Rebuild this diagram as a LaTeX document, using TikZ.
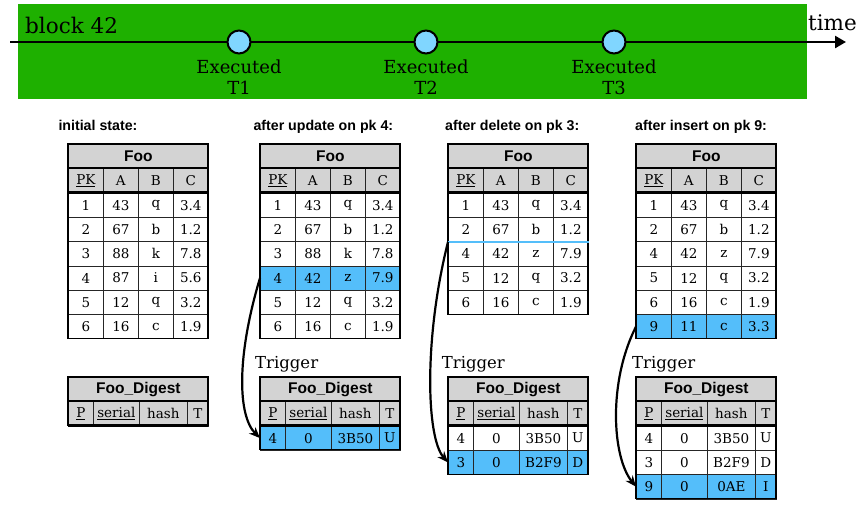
\documentclass[tikz,border=0pt]{standalone}
\usepackage{fontspec}
\setmainfont{DejaVu Serif}
\newfontfamily\headsans{Liberation Sans}
\usetikzlibrary{arrows.meta,positioning}

\definecolor{bandgreen}{RGB}{30,176,0}
\definecolor{dotblue}{RGB}{128,214,255}
\definecolor{rowblue}{RGB}{84,190,250}
\definecolor{hdrgray}{RGB}{211,211,211}

\def\rowh{24.3}

\tikzset{
  cellbox/.style={draw=black!85, line width=0.7pt, inner sep=0pt, anchor=north west,
    minimum height=\rowh pt, font=\fontsize{13.5}{15}\selectfont},
  headbox/.style={cellbox, fill=hdrgray, font=\headsans\bfseries\fontsize{15.5}{17}\selectfont},
  colbox/.style={cellbox, fill=hdrgray},
  titletext/.style={anchor=base west, inner sep=0pt, font=\headsans\bfseries\fontsize{14.2}{16}\selectfont},
  event/.style={circle, draw, line width=2pt, fill=dotblue, minimum size=23pt, inner sep=0pt},
  evlabel/.style={align=center, inner sep=0pt, font=\fontsize{18}{21.3}\selectfont},
  bigtext/.style={anchor=base west, inner sep=0pt, font=\fontsize{21.5}{24}\selectfont},
  trig/.style={anchor=base west, inner sep=0pt, font=\fontsize{16.5}{18}\selectfont},
  trigarrow/.style={line width=2.2pt, -{Stealth[length=11pt,width=9pt]}}
}

% Foo table: name, top left, number of rows, marked row, rows
\newcommand{\footable}[5]{%
  \begin{scope}[shift={#2}]
    \node[headbox, minimum width=140pt] (#1-h) at (0,0) {Foo};
    \foreach \t [count=\j] in {\underline{PK},A,B,C}
      \node[colbox, minimum width=35pt] (#1-c\j) at ({35*(\j-1)},\rowh) {\t};
    \foreach \p/\a/\b/\c [count=\i] in {#5} {
      \ifnum\i=#4 \def\fc{rowblue}\else\def\fc{white}\fi
      \foreach \v [count=\j] in {\p,\a,\b,\c}
        \node[cellbox, fill=\fc, minimum width=35pt] (#1-\i-\j) at ({35*(\j-1)},{\rowh*(\i+1)}) {\v};
    }
    \draw[line width=1.8pt] (0,\rowh) -- (140,\rowh);
    \draw[line width=2.4pt] (0,2*\rowh) -- (140,2*\rowh);
    \draw[line width=1.1pt] (0,0) rectangle (140,{\rowh*(#3+2)});
  \end{scope}}

% Digest table: name, top left, number of rows, marked row, rows
\newcommand{\digtable}[5]{%
  \begin{scope}[shift={#2}]
    \node[headbox, minimum width=140pt] (#1-h) at (0,0) {Foo\_Digest};
    \foreach \t/\w/\o [count=\j] in {\underline{P}/25/0,\underline{serial}/46/25,hash/48/71,T/21/119}
      \node[colbox, minimum width=\w pt] (#1-c\j) at (\o,\rowh) {\t};
    \ifnum#3>0
    \foreach \p/\a/\b/\c [count=\i] in {#5} {
      \ifnum\i=#4 \def\fc{rowblue}\else\def\fc{white}\fi
      \foreach \v/\w/\o [count=\j] in {\p/25/0,\a/46/25,\b/48/71,\c/21/119}
        \node[cellbox, fill=\fc, minimum width=\w pt] (#1-\i-\j) at (\o,{\rowh*(\i+1)}) {\v};
    }
    \fi
    \draw[line width=1.8pt] (0,\rowh) -- (140,\rowh);
    \draw[line width=2.4pt] (0,2*\rowh) -- (140,2*\rowh);
    \draw[line width=1.1pt] (0,0) rectangle (140,{\rowh*(#3+2)});
  \end{scope}}

\begin{document}
\begin{tikzpicture}[x=1pt,y=-1pt]
  \useasboundingbox (0,0) rectangle (859,504);

  % Block band with the time line
  \fill[bandgreen] (17.7,4) rectangle (806.7,99.3);
  \node[bigtext] (blk) at (25,33.3) {block 42};
  \coordinate (tstart) at (10,42);
  \coordinate (tend) at (846,42);
  \draw[line width=2.5pt, -{Triangle[length=11pt,width=12pt]}] (tstart) -- (tend);
  \node[bigtext] (time) at (808,30.7) {time};

  % Executed transactions
  \foreach \n/\x in {1/239, 2/426, 3/614} {
    \node[event] (e\n) at (\x,42) {};
    \node[evlabel, below=5pt of e\n] (l\n) {Executed\\T\n};
  }

  % Titles
  \node[titletext] (ttl1) at (58.3,130) {initial state:};
  \node[titletext] (ttl2) at (253.3,130) {after update on pk 4:};
  \node[titletext] (ttl3) at (445,130) {after delete on pk 3:};
  \node[titletext] (ttl4) at (635,130) {after insert on pk 9:};

  % Foo tables
  \footable{t1}{(68,144)}{6}{0}{1/43/q/3.4, 2/67/b/1.2, 3/88/k/7.8, 4/87/i/5.6, 5/12/q/3.2, 6/16/c/1.9}
  \footable{t2}{(260,144)}{6}{4}{1/43/q/3.4, 2/67/b/1.2, 3/88/k/7.8, 4/42/z/7.9, 5/12/q/3.2, 6/16/c/1.9}
  \footable{t3}{(448,144)}{5}{0}{1/43/q/3.4, 2/67/b/1.2, 4/42/z/7.9, 5/12/q/3.2, 6/16/c/1.9}
  \footable{t4}{(636,144)}{6}{6}{1/43/q/3.4, 2/67/b/1.2, 4/42/z/7.9, 5/12/q/3.2, 6/16/c/1.9, 9/11/c/3.3}

  % Deleted row
  \coordinate (del) at (t3-2-1.south west);
  \draw[rowblue, line width=2pt] (del) -- (t3-2-4.south east);

  % Digest tables
  \digtable{d1}{(68,377)}{0}{0}{}
  \digtable{d2}{(260,377)}{1}{1}{4/0/3B50/U}
  \digtable{d3}{(448,377)}{2}{2}{4/0/3B50/U, 3/0/B2F9/D}
  \digtable{d4}{(636,377)}{3}{3}{4/0/3B50/U, 3/0/B2F9/D, 9/0/0AE/I}

  % Trigger labels
  \node[trig] (tr2) at (255,368.3) {Trigger};
  \node[trig] (tr3) at (441.7,368.3) {Trigger};
  \node[trig] (tr4) at (632,368.3) {Trigger};

  % Trigger arrows
  \draw[trigarrow] (t2-4-1.west) .. controls +(-24,80) and +(-22,-22) .. (d2-1-1.west);
  \draw[trigarrow] (del) .. controls +(-24,95) and +(-22,-25) .. (d3-2-1.west);
  \draw[trigarrow] (t4-6-1.west) .. controls +(-28,55) and +(-24,-30) .. (d4-3-1.west);
\end{tikzpicture}
\end{document}
